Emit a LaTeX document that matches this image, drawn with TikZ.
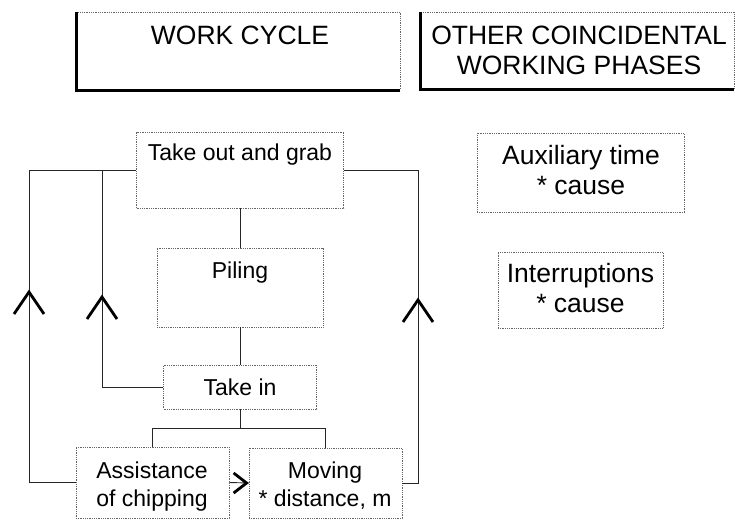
\documentclass[tikz,border=0pt]{standalone}
\usepackage{fontspec}
\setmainfont{Liberation Sans}
\begin{document}
\begin{tikzpicture}[x=1pt,y=-1pt,
  box/.style={draw=black!60, dash pattern=on 0.8pt off 1pt, line width=0.8pt, inner sep=0pt, rectangle},
  conn/.style={draw=black!85, line width=0.9pt},
  chev/.style={draw=black, line width=2.8pt, line cap=butt, line join=miter},
  shadowedge/.style={draw=black, line width=3pt},
  htxt/.style={font=\fontsize{26.5}{30}\selectfont, align=center, inner sep=0pt, text depth=0pt},
  rtxt/.style={font=\fontsize{26.5}{30}\selectfont, align=center, inner sep=0pt, text depth=0pt},
  ltxt/.style={font=\fontsize{23}{28}\selectfont, align=center, inner sep=0pt, text depth=0pt},
  chevup/.pic={\draw[chev] (-15,22) -- (0,0) -- (15,22);},
  chevright/.pic={\draw[chev] (-13,-10) -- (0,0) -- (-13,10);}
]
\useasboundingbox (0,0) rectangle (735,521);

% headers
\node[box, minimum width=323pt, minimum height=78pt] (hdr1) at (238.5,51) {};
\draw[shadowedge] (hdr1.north west) -- (hdr1.south west) -- (hdr1.south east);
\node[htxt] (hdr1t) at (240,35) {WORK CYCLE};

\node[box, minimum width=313pt, minimum height=77pt] (hdr2) at (577.5,50.5) {};
\draw[shadowedge] (hdr2.north west) -- (hdr2.south west) -- (hdr2.south east);
\node[htxt] (hdr2t) at (579,50) {OTHER COINCIDENTAL\\WORKING PHASES};

% work cycle boxes
\node[box, minimum width=207pt, minimum height=76pt] (take) at (240,170) {};
\node[ltxt] (taket) at (240,152) {Take out and grab};
\node[box, minimum width=166pt, minimum height=79pt] (piling) at (240,287.5) {};
\node[ltxt] (pilingt) at (240,270) {Piling};
\node[box, minimum width=153pt, minimum height=44pt] (takein) at (240,387) {};
\node[ltxt] (takeint) at (240,387) {Take in};
\node[box, minimum width=153pt, minimum height=71pt] (assist) at (152.5,482.5) {};
\node[ltxt] (assistt) at (152,484) {Assistance\\of chipping};
\node[box, minimum width=153pt, minimum height=70pt] (moving) at (325.5,483) {};
\node[ltxt] (movingt) at (325,484) {Moving\\* distance, m};

% other phases
\node[box, minimum width=207pt, minimum height=79pt] (aux) at (580.5,172.5) {};
\node[rtxt] (auxt) at (581,170) {Auxiliary time\\* cause};
\node[box, minimum width=165pt, minimum height=76pt] (intr) at (580.5,290) {};
\node[rtxt] (intrt) at (580.5,288) {Interruptions\\* cause};

% connector helper coordinates
\coordinate (L1) at (29,0);
\coordinate (L2) at (102,0);
\coordinate (R1) at (418,0);
\coordinate (B1) at (0,428);

% connectors
\draw[conn] (take.south) -- (piling.north);
\draw[conn] (piling.south) -- (takein.north);
\draw[conn] (takein.south) -- (takein.south |- B1);
\draw[conn] (assist.north) -- (assist.north |- B1) -- (moving.north |- B1) -- (moving.north);
\draw[conn] (assist.west) -- (assist.west -| L1) -- (take.west -| L1) -- (take.west);
\draw[conn] (takein.west) -- (takein.west -| L2) -- (take.west -| L2);
\draw[conn] (moving.east) -- (moving.east -| R1) -- (take.east -| R1) -- (take.east);
\draw[conn] (assist.east) -- (moving.west);

% chevron arrowheads
\coordinate (a1) at (29,292);
\coordinate (a2) at (102,297);
\coordinate (a3) at (418,300);
\coordinate (a4) at (moving.west);
\pic at (a1) {chevup};
\pic at (a2) {chevup};
\pic at (a3) {chevup};
\pic at ([xshift=-2pt]a4) {chevright};
\end{tikzpicture}
\end{document}
